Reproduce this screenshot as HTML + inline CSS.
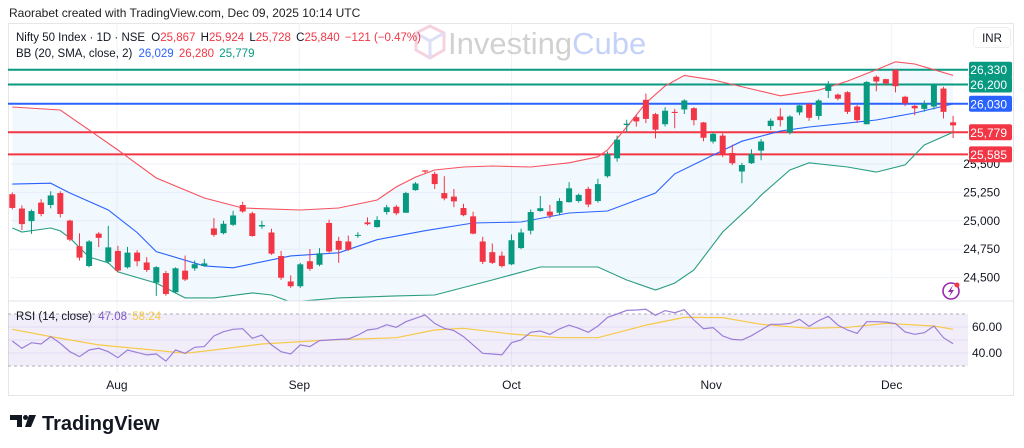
<!DOCTYPE html>
<html><head><meta charset="utf-8">
<style>
html,body{margin:0;padding:0;background:#fff;width:1024px;height:448px;overflow:hidden}
svg{display:block;font-family:"Liberation Sans",sans-serif}
</style></head>
<body>
<svg id="chart" width="1024" height="448" viewBox="0 0 1024 448" xmlns="http://www.w3.org/2000/svg">
<defs>
<clipPath id="mainClip"><rect x="8" y="23" width="960" height="278"/></clipPath>
<clipPath id="rsiClip"><rect x="8" y="302" width="960" height="70"/></clipPath>
</defs>
<text x="9" y="17" font-size="12" fill="#222">Raorabet created with TradingView.com, Dec 09, 2025 10:14 UTC</text>
<rect x="8.5" y="23.5" width="1005" height="372" fill="#fff" stroke="#e6e6e6"/>
<g id="grid"></g>
<g opacity="0.45">
<g fill="none" stroke-width="3">
<path d="M416 33 L430 26 L444 33 L444 50 L430 58 L416 50 Z" stroke="#e8a0b8"/>
<path d="M416 33 L430 41 L444 33 M430 41 L430 58" stroke="#b8b8ee"/>
</g>
<text x="448" y="54" font-size="31" fill="#9a9a9a">Investing<tspan fill="#7d9cf0">Cube</tspan></text>
</g>
<g id="main" clip-path="url(#mainClip)"></g>
<g id="rsi"></g>
<line x1="8" y1="301" x2="1013" y2="301" stroke="#e0e3eb"/>
<g id="axis"></g>
<g font-size="11.5">
<text x="16" y="41" fill="#131722">Nifty 50 Index · 1D · NSE <tspan dx="3">O</tspan><tspan fill="#f23645">25,867</tspan> <tspan dx="2">H</tspan><tspan fill="#f23645">25,924</tspan> <tspan dx="2">L</tspan><tspan fill="#f23645">25,728</tspan> <tspan dx="2">C</tspan><tspan fill="#f23645">25,840</tspan> <tspan dx="2" fill="#f23645">−121 (−0.47%)</tspan></text>
<text x="16" y="57" fill="#131722">BB (20, SMA, close, 2) <tspan dx="3" fill="#2962ff">26,029</tspan> <tspan dx="2" fill="#f23645">26,280</tspan> <tspan dx="2" fill="#089981">25,779</tspan></text>
<text x="16" y="320" fill="#131722">RSI (14, close) <tspan dx="3" fill="#7e57c2">47.08</tspan> <tspan dx="2" fill="#f7c948">58.24</tspan></text>
</g>
<rect x="973.5" y="27.5" width="37" height="20" rx="4" fill="#fff" stroke="#eee"/>
<text x="992" y="42" font-size="11.5" fill="#131722" text-anchor="middle">INR</text>
<g>
<circle cx="951" cy="291" r="8" fill="none" stroke="#9c27b0" stroke-width="1.6"/>
<path d="M953 285 L948 292 L951 292 L949 297 L954 290 L951 290 Z" fill="#9c27b0"/>
<circle cx="957" cy="285" r="2.5" fill="#f23645"/>
</g>
<g>
<path d="M10 415 H22 V427 H17 V420 H10 Z" fill="#131722"/>
<circle cx="25.5" cy="417.5" r="2.5" fill="#131722"/>
<path d="M29 415 H36 L31 427 H25 Z" fill="#131722"/>
<text x="42" y="430" font-size="20" font-weight="bold" fill="#131722">TradingView</text>
</g>
</svg>
<script>
// ---- data ----
const opens  = [25234,25108,24997,25160,25139,25244,25002,24776,24602,24887,24639,24735,24591,24720,24633,24455,24540,24371,24561,24581,24602,24933,24891,24965,25139,25066,24950,24897,24690,24466,24424,24644,24613,24981,24823,24818,24871,24986,24945,25077,25124,25071,25270,25444,25413,25244,25213,25113,25039,24818,24724,24693,24617,24760,24913,25086,25081,25071,25164,25174,25281,25174,25392,25550,25843,25912,26065,25939,25850,25959,25980,25991,25866,25698,25750,25597,25434,25507,25618,25834,25918,25776,25954,26027,25923,26143,26111,26132,26006,25850,26268,26247,26330,26092,26012,25985,26006,26164,25867];
const closes = [25113,24971,25086,25060,25223,25060,24834,24676,24818,24850,24766,24562,24720,24644,24567,24592,24356,24582,24483,24618,24625,24876,24974,25047,25082,24866,24963,24711,24499,24424,24617,24577,24714,24730,24745,24745,24876,24970,25007,25119,25066,25244,25328,25433,25323,25197,25171,25050,24887,24639,24630,24601,24829,24897,25077,25111,25045,25174,25286,25228,25143,25323,25587,25714,25855,25875,25897,25802,25969,25949,26059,25886,25731,25765,25587,25507,25491,25587,25698,25881,25886,25918,26016,25907,26059,26200,26075,25959,25886,26222,26226,26210,26185,26034,25990,26034,26200,25959,25840];
const highs  = [25250,25135,25100,25190,25260,25260,25010,24890,24830,24900,24956,24780,24770,24740,24680,24600,24560,24590,24694,24651,24665,25024,25000,25088,25168,25080,25000,24930,24735,24520,24630,24752,24760,25010,24860,24870,24900,25030,25040,25140,25140,25255,25340,25445,25430,25393,25280,25150,25080,24860,24800,24730,24880,24930,25100,25218,25140,25200,25340,25240,25300,25370,25610,25750,25890,25930,26120,25950,26000,25985,26070,26000,25870,25780,25770,25670,25510,25630,25720,25900,25990,25930,26020,26040,26070,26230,26120,26140,26020,26230,26280,26250,26330,26100,26020,26060,26210,26180,25924];
const lows   = [25100,24918,24885,25040,25110,25030,24820,24650,24590,24768,24620,24545,24580,24600,24550,24339,24340,24360,24470,24560,24595,24860,24880,24955,25070,24860,24930,24700,24480,24410,24410,24560,24600,24720,24630,24735,24850,24960,24940,25055,25050,25070,25265,25420,25280,25180,25120,25040,24880,24620,24620,24590,24610,24750,24880,25080,25020,25050,25160,25160,25120,25160,25380,25520,25780,25830,25860,25726,25830,25815,25940,25840,25700,25680,25560,25490,25331,25500,25533,25800,25830,25760,25930,25880,25890,26080,26060,25940,25860,25850,26140,26190,26130,26010,25930,25960,25980,25900,25728];
const bbUpperIdx = [0,5,11,15,20,24,30,34,38,40,42,44,47,50,54,58,61,62,64,66,68,70,73,77,80,84,87,90,92,94,96,98];
const bbUpper    = [26002,25975,25623,25377,25201,25113,25095,25113,25183,25298,25385,25447,25474,25482,25474,25511,25563,25623,25826,26038,26187,26280,26240,26160,26100,26150,26230,26330,26400,26380,26330,26280];
const bbMidIdx = [0,4,6,8,10,13,15,20,23,29,34,38,43,48,53,58,62,67,69,73,76,80,83,87,90,94,98];
const bbMid    = [25323,25331,25245,25170,25095,24897,24729,24603,24586,24691,24718,24834,24913,24981,24989,25069,25086,25245,25413,25578,25701,25790,25826,25860,25887,25949,26029];
const bbLowerIdx = [0,1,4,5,6,8,10,11,15,18,21,25,27,29,34,40,44,48,50,55,61,64,67,69,71,74,77,78,81,83,87,90,93,95,98];
const bbLower    = [24937,24901,24937,24911,24848,24681,24629,24550,24452,24321,24321,24365,24347,24285,24321,24339,24347,24435,24479,24593,24593,24479,24391,24452,24567,24901,25137,25225,25447,25511,25474,25429,25492,25667,25779];
const levelValues = [26330,26200,26030,25779,25585];
const levelLabels = ["26,330","26,200","26,030","25,779","25,585"];
const priceTicks = [25500,25250,25000,24750,24500];
const priceTickLabels = ["25,500","25,250","25,000","24,750","24,500"];
const monthNames = ["Aug","Sep","Oct","Nov","Dec"];
const monthIdx = [10.9,29.9,52.0,72.8,91.6];
const rsiValues = [49.2,43.6,47.9,46.9,52.6,47.4,41.0,37.2,42.3,43.6,41.0,36.4,42.3,40.5,38.5,39.2,33.8,42.3,39.8,44.4,44.9,53.1,56.4,58.2,58.7,51.3,53.8,46.2,41.0,39.2,46.2,44.9,49.5,50.0,50.5,50.8,53.8,57.7,58.7,61.8,59.8,64.1,66.7,69.2,62.8,59.0,57.2,52.6,46.2,39.8,39.2,38.5,47.9,50,55.9,56.9,54.4,58.5,61.5,59,55.9,60.8,67.4,70,72.8,73.1,73.6,69,72.6,71,73.3,65.4,58.7,59.5,53.1,50.5,50,53.3,57.7,62.1,62.1,62.8,65.9,60.5,64.9,68.2,61.5,57.7,55.1,64.1,64.1,63.8,62.6,56.2,54.4,55.6,60.8,51.8,47.1];
const rsiMaIdx = [0,4,9,14,18,21,26,33,40,44,47,52,57,61,66,70,74,78,83,87,91,96,98];
const rsiMa    = [58.2,52.6,46.2,42.8,39.8,42.3,46.9,50,51.8,57.7,59,54.6,51.8,51.8,61.5,67.4,67.2,62.1,59,59.8,62.8,60.8,58.2];
const rsiTicks = [60,40];
const rsiTickLabels = ["60.00","40.00"];

// ---- scales ----
const X0 = 12.3, STEP = 9.6;
function xs(i){ return X0 + i*STEP; }
function ys(p){ return 164 - (p-25500)*0.1136; }
function yr(r){ return 327 + (60-r)*1.3; }

const NS = "http://www.w3.org/2000/svg";
function mk(tag, attrs, parent){
  const el = document.createElementNS(NS, tag);
  for (const k in attrs) el.setAttribute(k, attrs[k]);
  parent.appendChild(el);
  return el;
}
const grid = document.getElementById('grid');
const main = document.getElementById('main');
const rsi = document.getElementById('rsi');
const axis = document.getElementById('axis');
const RED = "#f23645", GREEN = "#089981", BLUE = "#2962ff";

// grid
priceTicks.forEach((p) => {
  const l = mk('line', {x1:8, x2:968, y1:ys(p), y2:ys(p), stroke:"#f0f3fa"}, grid);
  
  
});
monthIdx.forEach((m, k) => {
  const l = mk('line', {x1:xs(m), x2:xs(m), y1:23, y2:372, stroke:"#f0f3fa"}, grid);
  
  
  const t = mk('text', {x:xs(m), y:389, 'font-size':12, fill:"#131722", 'text-anchor':'middle'}, axis);
  t.textContent = monthNames[k];
  
  
});

// band fill
function pathFrom(idx, vals, yf){ return idx.map((i,k)=>(k?'L':'M')+xs(i).toFixed(1)+' '+yf(vals[k]).toFixed(1)).join(' '); }
const upPath = pathFrom(bbUpperIdx, bbUpper, ys);
const loRev = bbLowerIdx.map((i,k)=>'L'+xs(i).toFixed(1)+' '+ys(bbLower[k]).toFixed(1)).reverse().join(' ');
const fill = mk('path', {d: upPath + ' ' + loRev + ' Z', fill:"rgba(33,150,243,0.06)"}, main);



// levels
const levelColors = [GREEN, GREEN, BLUE, RED, RED];
levelValues.forEach((v,k) => {
  const l = mk('line', {x1:8, x2:968, y1:ys(v), y2:ys(v), stroke:levelColors[k], 'stroke-width':2}, main);
  
  
});

// band lines
[[bbUpperIdx,bbUpper,"#f7525f",'bb-upper-line'],[bbMidIdx,bbMid,"#2962ff",'bb-basis-line'],[bbLowerIdx,bbLower,"#2a9d80",'bb-lower-line']].forEach(([ix,v,c,n])=>{
  const p = mk('path', {d:pathFrom(ix,v,ys), fill:'none', stroke:c, 'stroke-width':1.1}, main);
  
  
});

// candles
opens.forEach((o,i) => {
  const c = closes[i], up = c >= o, col = up ? GREEN : RED;
  const g = mk('g', {}, main);
  
  
  const x = xs(i);
  mk('line', {x1:x, x2:x, y1:ys(highs[i]), y2:ys(lows[i]), stroke:col, 'stroke-width':1}, g);
  const top = ys(Math.max(o,c)), bot = ys(Math.min(o,c));
  mk('rect', {x:x-3, y:top, width:6, height:Math.max(1, bot-top), fill:col}, g);
});

// price axis
priceTicks.forEach((p,k) => {
  const t = mk('text', {x:1000, y:ys(p)+4, 'font-size':12, fill:"#131722", 'text-anchor':'end'}, axis);
  t.textContent = priceTickLabels[k];
  
  
});
levelValues.forEach((v,k) => {
  const r = mk('rect', {x:969, y:ys(v)-8, width:43, height:16, rx:2, fill:levelColors[k]}, axis);
  
  
  const t = mk('text', {x:1007, y:ys(v)+4.5, 'font-size':12, fill:"#fff", 'text-anchor':'end'}, axis);
  t.textContent = levelLabels[k];
  
  
});

// RSI pane
const band = mk('rect', {x:8, y:yr(70), width:960, height:yr(30)-yr(70), fill:"rgba(126,87,194,0.1)"}, rsi);


[70,30].forEach(v => {
  const l = mk('line', {x1:8, x2:968, y1:yr(v), y2:yr(v), stroke:"#9598a1", 'stroke-dasharray':'3 3', 'stroke-width':0.8}, rsi);
  
  
});
[60,50,40].forEach(v => {
  const l = mk('line', {x1:8, x2:968, y1:yr(v), y2:yr(v), stroke:"rgba(126,87,194,0.12)"}, rsi);
  
  
});
const maLine = mk('path', {d:pathFrom(rsiMaIdx, rsiMa, yr), fill:'none', stroke:"#f7c948", 'stroke-width':1.2}, rsi);


const rsiLine = mk('path', {d:pathFrom(rsiValues.map((_,i)=>i), rsiValues, yr), fill:'none', stroke:"#9b7ed8", 'stroke-width':1.2}, rsi);


rsiTicks.forEach((v,k) => {
  const t = mk('text', {x:1002, y:yr(v)+4, 'font-size':12, fill:"#131722", 'text-anchor':'end'}, axis);
  t.textContent = rsiTickLabels[k];
  
  
});
</script>
</body></html>
